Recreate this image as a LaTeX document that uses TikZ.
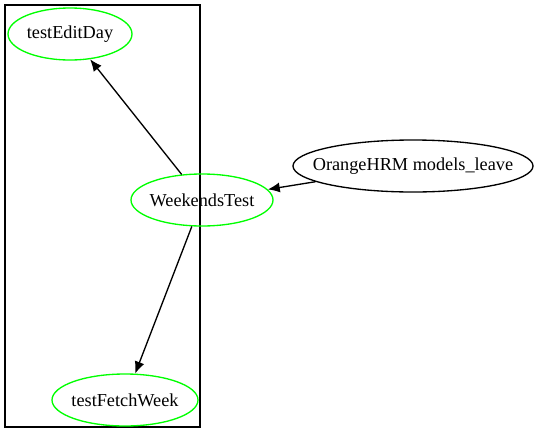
\documentclass[tikz,border=0pt]{standalone}
\usepackage{fontspec}
\setmainfont{Liberation Serif}
\usetikzlibrary{shapes.geometric,arrows.meta}
\tikzset{
  test/.style={ellipse,draw=green,line width=1pt,minimum height=39pt,inner ysep=0pt,inner xsep=-15pt,font=\fontsize{13.7pt}{15pt}\selectfont},
  mod/.style={ellipse,draw=black,line width=1pt,minimum height=39pt,inner ysep=0pt,inner xsep=-15pt,font=\fontsize{13.7pt}{15pt}\selectfont},
  edge/.style={-{Latex[length=9pt,width=7.5pt]},line width=1pt}
}
\begin{document}
\begin{tikzpicture}[x={(0.75pt,0)},y={(0,-0.75pt)}]
\useasboundingbox (0,0) rectangle (539,443);
\draw[line width=1pt] (5,5) rectangle (200,427);
\node [test,minimum width=93pt] (n1) at (70,34) {testEditDay};
\node [test,minimum width=106.5pt] (n0) at (202,200) {WeekendsTest};
\node [test,minimum width=109.5pt] (n2) at (125,400) {testFetchWeek};
\node [mod,minimum width=180pt] (n3) at (413,166) {OrangeHRM models\_leave};
\draw [edge] (n0) -- (n1);
\draw [edge] (n0) -- (n2);
\draw [edge] (n3) -- (n0);
\end{tikzpicture}
\end{document}
